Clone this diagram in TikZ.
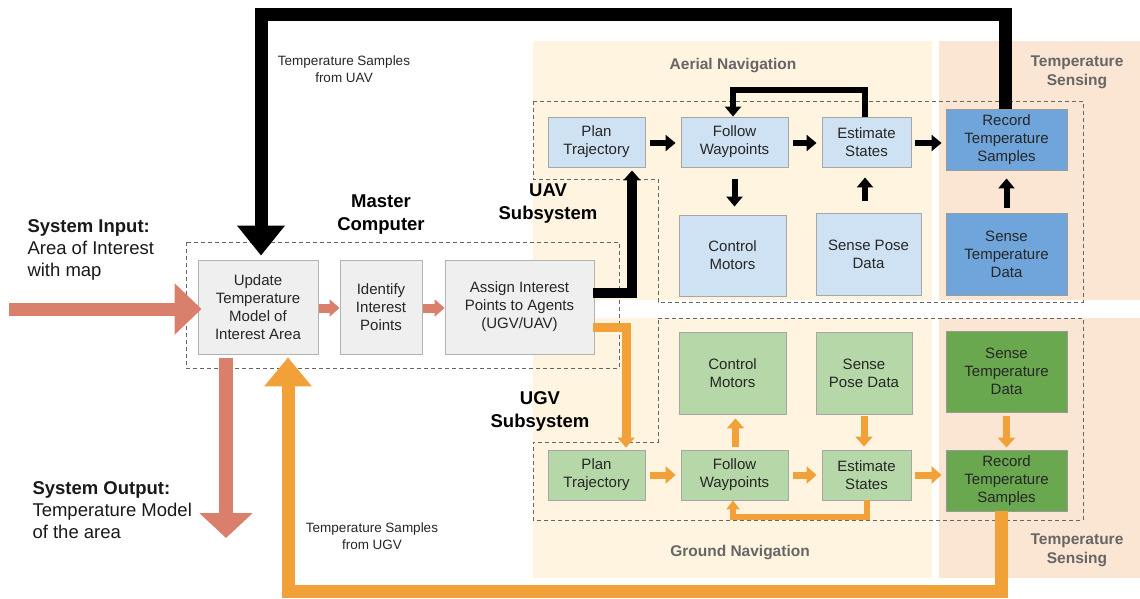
\documentclass[tikz,border=0pt]{standalone}
\usepackage{fontspec}
\setmainfont{Liberation Sans}
\usetikzlibrary{arrows.meta,calc}

\definecolor{cYel}{HTML}{FEF4DF}
\definecolor{cPch}{HTML}{FBE5D3}
\definecolor{cLB}{HTML}{CFE2F3}
\definecolor{cDB}{HTML}{6FA5DA}
\definecolor{cLG}{HTML}{B6D7A8}
\definecolor{cDG}{HTML}{6AA84F}
\definecolor{cGr}{HTML}{EFEFEF}
\definecolor{cSal}{HTML}{D97F6C}
\definecolor{cOr}{HTML}{F2A138}
\definecolor{cTxt}{HTML}{262626}
\definecolor{cHd}{HTML}{666666}

\begin{document}
\begin{tikzpicture}[x=1pt,y=-1pt,
  box/.style={rectangle, inner sep=0pt, align=center, text=cTxt,
    font=\fontsize{15}{18}\selectfont, line width=0.9pt},
  lblue/.style={box, fill=cLB, draw=black!35},
  dblue/.style={box, fill=cDB, draw=black!40},
  lgreen/.style={box, fill=cLG, draw=black!35},
  dgreen/.style={box, fill=cDG, draw=black!40},
  gbox/.style={box, fill=cGr, draw=black!30},
  group/.style={draw=black!60, line width=1pt, dash pattern=on 4pt off 3pt},
  blk/.style={draw=black, line width=6pt, -{Triangle[length=10pt,width=16pt]},
    shorten <=5pt, shorten >=5pt},
  org/.style={draw=cOr, line width=7pt, -{Triangle[length=10pt,width=17pt]},
    shorten <=5pt, shorten >=5pt},
  sal/.style={draw=cSal, line width=9pt, -{Triangle[length=10pt,width=17pt]}},
  hdr/.style={align=center, font=\fontsize{18.5}{23}\selectfont\bfseries, text=black},
  side/.style={align=left, anchor=west, font=\fontsize{18.5}{22}\selectfont, text=black!90},
  note/.style={align=center, font=\fontsize{13.5}{16.5}\selectfont, text=cTxt},
  area/.style={align=center, font=\fontsize{15.5}{19}\selectfont\bfseries, text=cHd}
]
\useasboundingbox (0,0) rectangle (1140,598);

% shaded areas
\fill[cYel] (533,41) rectangle (932,300);
\fill[cPch] (939,41) rectangle (1140,300);
\fill[cYel] (533,318) rectangle (932,578);
\fill[cPch] (939,318) rectangle (1140,578);

% area titles
\node[area] (aer) at (733,66) {Aerial Navigation};
\node[area] (gnd) at (740,553) {Ground Navigation};
\node[area] (tsu) at (1077,72) {Temperature\\Sensing};
\node[area] (tsd) at (1077,550) {Temperature\\Sensing};

% dashed subsystem outlines
\draw[group] (533,101) -- (1083,101) -- (1083,302) -- (658,302) -- (658,179) -- (533,179) -- cycle;
\draw[group] (658,318) -- (1083,318) -- (1083,520) -- (533,520) -- (533,442) -- (658,442) -- cycle;
\draw[group] (186,242) rectangle (619,368);

% master computer
\node[gbox, minimum width=120pt, minimum height=94pt] (upd) at (258,307) {Update\\Temperature\\Model of\\Interest Area};
\node[gbox, minimum width=82pt, minimum height=94pt] (ident) at (381,307) {Identify\\Interest\\Points};
\node[gbox, minimum width=149pt, minimum height=94pt] (assign) at (519.5,307) {Assign Interest\\Points to Agents\\(UGV/UAV)};

% UAV subsystem
\node[lblue, minimum width=97pt, minimum height=50pt] (uplan) at (596.5,142) {Plan\\Trajectory};
\node[lblue, minimum width=107pt, minimum height=50pt] (ufol) at (734.5,142) {Follow\\Waypoints};
\node[lblue, minimum width=89pt, minimum height=50pt] (uest) at (866.5,142) {Estimate\\States};
\node[dblue, minimum width=121pt, minimum height=61pt] (urec) at (1006.5,139.5) {Record\\Temperature\\Samples};
\node[lblue, minimum width=107pt, minimum height=81pt] (uctl) at (732.5,255.5) {Control\\Motors};
\node[lblue, minimum width=105pt, minimum height=82pt] (upos) at (868.5,254) {Sense Pose\\Data};
\node[dblue, minimum width=121pt, minimum height=82pt] (utmp) at (1006.5,254) {Sense\\Temperature\\Data};

% UGV subsystem
\node[lgreen, minimum width=97pt, minimum height=50pt] (gplan) at (596.5,475) {Plan\\Trajectory};
\node[lgreen, minimum width=107pt, minimum height=50pt] (gfol) at (734.5,475) {Follow\\Waypoints};
\node[lgreen, minimum width=89pt, minimum height=50pt] (gest) at (866.5,475) {Estimate\\States};
\node[dgreen, minimum width=121pt, minimum height=61pt] (grec) at (1006.5,480.5) {Record\\Temperature\\Samples};
\node[lgreen, minimum width=107pt, minimum height=82pt] (gctl) at (732.5,373) {Control\\Motors};
\node[lgreen, minimum width=96pt, minimum height=82pt] (gpos) at (864,373) {Sense\\Pose Data};
\node[dgreen, minimum width=121pt, minimum height=81pt] (gtmp) at (1006.5,371.5) {Sense\\Temperature\\Data};

% labels
\node[hdr] (mc) at (381,215) {Master\\Computer};
\node[hdr] (uavs) at (548,204) {UAV\\Subsystem};
\node[hdr] (ugvs) at (540,411) {UGV\\Subsystem};
\node[side] (sin) at (24,250) {\textbf{System Input:}\\Area of Interest\\with map};
\node[side] (sout) at (29,510) {\textbf{System Output:}\\Temperature Model\\of the area};
\node[note] (tuav) at (344,69) {Temperature Samples\\from UAV};
\node[note] (tugv) at (372,536) {Temperature Samples\\from UGV};

% system input / output
\coordinate (inL) at (9,309);
\draw[draw=cSal, line width=13pt, -{Triangle[length=27pt,width=50pt]}, shorten >=-4pt]
  (inL) -- (inL -| upd.west);
\coordinate (outB) at (226,538);
\draw[draw=cSal, line width=14pt, -{Triangle[length=25pt,width=52pt]}, shorten <=4pt]
  (upd.south -| outB) -- (outB);

% master internal arrows
\draw[sal, shorten <=1pt] (upd.east |- 0,308) -- (ident.west |- 0,308);
\draw[sal, shorten <=1pt] (ident.east |- 0,308) -- (assign.west |- 0,308);

% assignment to the UAV and UGV planners
\coordinate (ma) at (593,293);
\draw[draw=black, line width=10pt, line join=miter, -{Triangle[length=10pt,width=17pt]}, shorten >=3pt]
  (ma) -| ([xshift=35.5pt]uplan.south);
\coordinate (mg) at (593,327);
\draw[draw=cOr, line width=9pt, line join=miter, -{Triangle[length=10pt,width=17pt]}, shorten >=2pt]
  (mg) -| ([xshift=29.5pt]gplan.north);

% UAV flow
\coordinate (uy) at (0,143);
\draw[blk] (uplan.east |- uy) -- (ufol.west |- uy);
\draw[blk] (ufol.east |- uy) -- (uest.west |- uy);
\draw[blk, shorten <=4pt, shorten >=4pt] (uest.east |- uy) -- (urec.west |- uy);
\draw[blk, shorten <=12pt, shorten >=8pt] (ufol.south) -- (ufol.south |- uctl.north);
\draw[blk, shorten <=12pt, shorten >=10pt] ([xshift=-3.5pt]upos.north) -- ([xshift=-1.5pt]uest.south);
\draw[blk, shorten <=5pt, shorten >=8pt] (utmp.north) -- (urec.south);
\draw[draw=black, line width=6pt, line join=miter, -{Triangle[length=10pt,width=16pt]}]
  ([xshift=-1.5pt]uest.north) -- ++(0,-27) -| ([xshift=-1.5pt]ufol.north);

% UGV flow
\draw[org] (gplan) -- (gfol);
\draw[org] (gfol) -- (gest);
\draw[org, shorten <=4pt, shorten >=4pt] (gest.east) -- (grec.west |- gest.east);
\draw[org, shorten <=3pt, shorten >=4pt] ([xshift=1pt]gfol.north) -- ([xshift=1pt]gfol.north |- gctl.south);
\draw[org, shorten <=2pt, shorten >=3pt] (gpos.south) -- (gpos.south |- gest.north);
\draw[org, shorten <=4pt, shorten >=2pt] (gtmp.south) -- (grec.north);
\draw[draw=cOr, line width=6pt, line join=miter, -{Triangle[length=9pt,width=13pt]}]
  (gest.south) -- ++(0,17) -| ([xshift=-1.5pt]gfol.south);

% temperature samples back to the master computer
\coordinate (topY) at (0,14);
\draw[draw=black, line width=13pt, line join=miter, -{Triangle[length=30pt,width=46pt]}, shorten >=4pt]
  ([xshift=-1.5pt]urec.north) -- ([xshift=-1.5pt]urec.north |- topY) -| ([xshift=3pt]upd.north);
\coordinate (botY) at (0,591);
\draw[draw=cOr, line width=13pt, line join=miter, -{Triangle[length=29pt,width=46pt]}, shorten >=3pt]
  ([xshift=-5pt]grec.south) -- ([xshift=-5pt]grec.south |- botY) -| ([xshift=30pt]upd.south);
\end{tikzpicture}
\end{document}
